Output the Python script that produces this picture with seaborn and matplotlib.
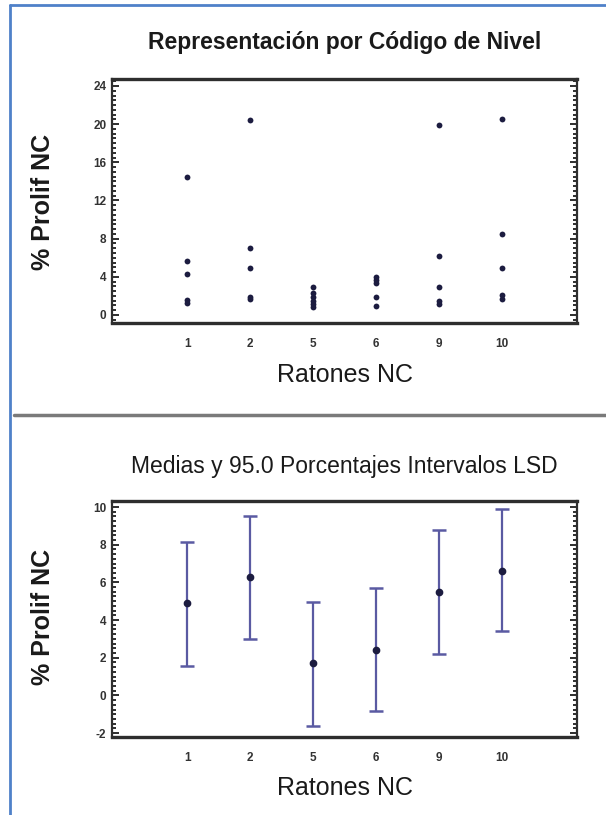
import numpy as np
import pandas as pd
import seaborn as sns
import matplotlib.pyplot as plt
from matplotlib.ticker import MultipleLocator
from matplotlib.lines import Line2D

#Groups of mice (level codes)
ratones = ['1', '2', '5', '6', '9', '10']

#% Prolif NC per mouse
prolif_1 = [14.5, 5.7, 4.3, 1.6, 1.3]
prolif_2 = [20.4, 7.0, 4.9, 1.9, 1.7]
prolif_5 = [2.9, 2.3, 1.9, 1.5, 1.1, 0.8]
prolif_6 = [4.0, 3.7, 3.3, 1.9, 0.9]
prolif_9 = [19.9, 6.2, 2.9, 1.5, 1.1]
prolif_10 = [20.5, 8.5, 4.9, 2.1, 1.7]

#Means and 95% LSD interval limits
medias = [4.9, 6.3, 1.7, 2.4, 5.5, 6.6]
lsd_bajo = [1.55, 3.0, -1.6, -0.85, 2.2, 3.4]
lsd_alto = [8.15, 9.55, 4.95, 5.7, 8.8, 9.9]

groups = [prolif_1, prolif_2, prolif_5, prolif_6, prolif_9, prolif_10]
df = pd.DataFrame({
    'raton': [r for r, g in zip(ratones, groups) for _ in g],
    'prolif': [v for g in groups for v in g],
})

sns.set_style("white")
plt.rcParams['font.family'] = ['Liberation Sans', 'DejaVu Sans']
plt.rcParams['axes.unicode_minus'] = False

dot_color = '#1c1c40'
bar_color = '#5a5aa2'
spine_color = '#2e2e2e'

fig = plt.figure(figsize=(6.06, 8.15), dpi=100)
W, H = 606, 815

def px_axes(left, top, right, bottom):
    return fig.add_axes([left / W, 1 - bottom / H, (right - left) / W, (bottom - top) / H])

def style_axes(ax, major, minor):
    for s in ax.spines.values():
        s.set_visible(True)
        s.set_color(spine_color)
        s.set_linewidth(1.6)
    ax.spines['top'].set_linewidth(2.4)
    ax.spines['bottom'].set_linewidth(2.4)
    ax.yaxis.set_major_locator(MultipleLocator(major))
    ax.yaxis.set_minor_locator(MultipleLocator(minor))
    ax.tick_params(axis='y', which='both', direction='in', left=True, right=True,
                   color=spine_color, labelsize=8.5, labelcolor='#333333', pad=4)
    ax.tick_params(axis='y', which='major', length=5, width=1.4)
    ax.tick_params(axis='y', which='minor', length=3, width=1.4)
    ax.tick_params(axis='x', length=0, labelsize=8.5, labelcolor='#333333', pad=11)
    for t in ax.get_xticklabels() + ax.get_yticklabels():
        t.set_fontweight('bold')
    ax.set_xlabel('')
    ax.set_ylabel('')

#Top panel: scatter by level code
ax1 = px_axes(112, 79, 577, 323)
sns.stripplot(data=df, x='raton', y='prolif', order=ratones, jitter=False,
              color=dot_color, size=4.2, ax=ax1)
ax1.set_xlim(-1.2, 6.2)
ax1.set_ylim(-0.84, 24.73)
style_axes(ax1, 4, 0.5)

#Bottom panel: means with LSD intervals
ax2 = px_axes(112, 501, 577, 737)
pos = np.arange(len(ratones))
ax2.errorbar(pos, medias,
             yerr=[np.subtract(medias, lsd_bajo), np.subtract(lsd_alto, medias)],
             fmt='none', ecolor=bar_color, elinewidth=1.6, capsize=5, capthick=1.8)
sns.pointplot(x=ratones, y=medias, order=ratones, linestyle='none', errorbar=None,
              color=dot_color, markersize=3.5, ax=ax2)
ax2.set_xlim(-1.2, 6.2)
ax2.set_ylim(-2.21, 10.32)
style_axes(ax2, 2, 0.25)

#Titles and labels
fig.text(345 / W, 1 - 42 / H, 'Representación por Código de Nivel', ha='center', va='center',
         fontsize=16.5, fontweight='bold', color='#1a1a1a')
fig.text(344 / W, 1 - 466 / H, 'Medias y 95.0 Porcentajes Intervalos LSD', ha='center', va='center',
         fontsize=16.5, color='#1a1a1a')
for yc in (375, 788):
    fig.text(345 / W, 1 - yc / H, 'Ratones NC', ha='center', va='center', fontsize=18, color='#1a1a1a')
for yc in (202, 617):
    fig.text(43 / W, 1 - yc / H, '% Prolif NC', ha='center', va='center', rotation=90,
             fontsize=18, fontweight='bold', color='#1a1a1a')

#Screenshot frame and separator
fig.add_artist(Line2D([9.5 / W, 9.5 / W], [0, 1 - 5 / H], color='#4f81c9', lw=2))
fig.add_artist(Line2D([9.5 / W, 1], [1 - 5 / H, 1 - 5 / H], color='#4f81c9', lw=2))
fig.add_artist(Line2D([14 / W, 1], [1 - 415 / H, 1 - 415 / H], color='#7a7a7a', lw=2.5))

plt.savefig('out.png', dpi=100, facecolor='white')
